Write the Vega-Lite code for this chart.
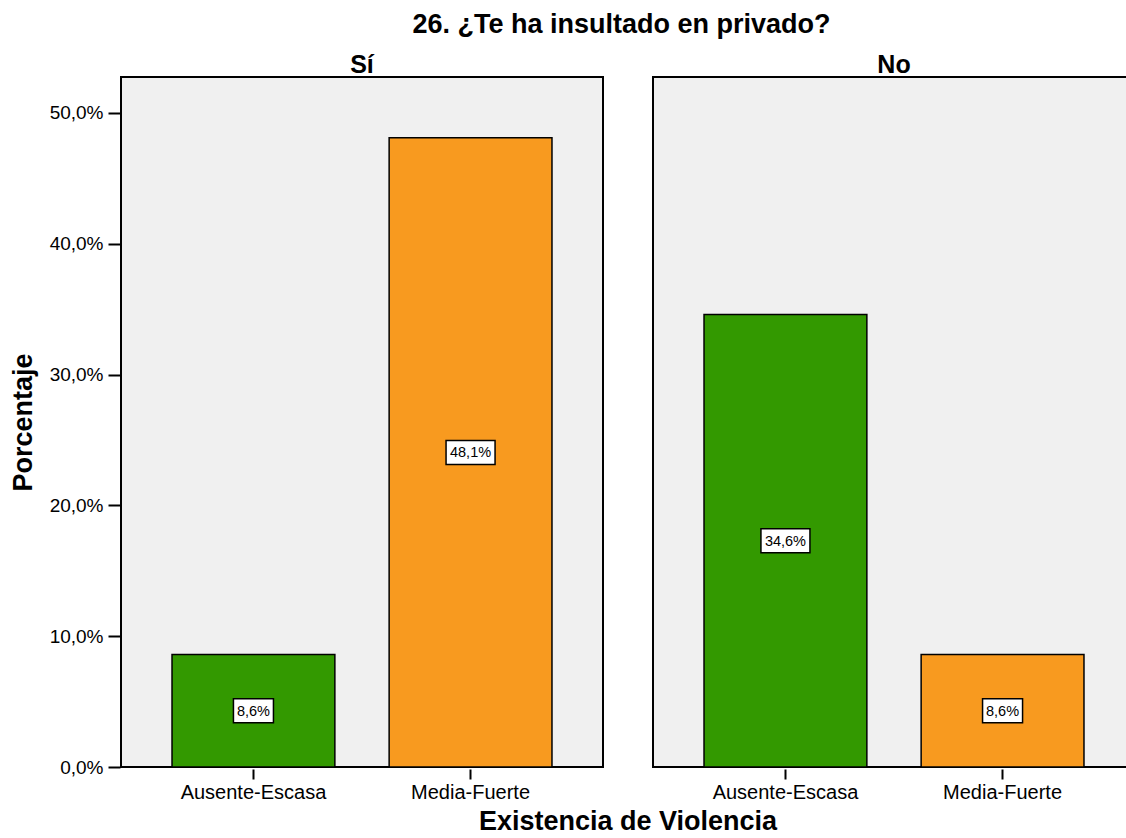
{
  "$schema": "https://vega.github.io/schema/vega-lite/v6.json",
  "padding": {"left": 9, "top": 11, "right": 0, "bottom": 0},
  "title": {"text": "26. ¿Te ha insultado en privado?", "fontSize": 27, "font": "Liberation Sans", "fontWeight": "bold", "anchor": "middle", "dx": 49, "color": "black", "offset": 14},
  "data": {"values": [
    {"g": "Sí", "cat": "Ausente-Escasa", "v": 8.6},
    {"g": "Sí", "cat": "Media-Fuerte", "v": 48.1},
    {"g": "No", "cat": "Ausente-Escasa", "v": 34.6},
    {"g": "No", "cat": "Media-Fuerte", "v": 8.6}
  ]},
  "transform": [
    {"calculate": "replace(format(datum.v, '.1f'), '.', ',') + '%'", "as": "lbl"},
    {"calculate": "datum.v / 2", "as": "mid"}
  ],
  "facet": {"column": {"field": "g", "sort": ["Sí", "No"], "title": "Existencia de Violencia",
    "header": {"titleOrient": "bottom", "labelOrient": "top", "labelFontSize": 25, "labelFontWeight": "bold", "labelFont": "Liberation Sans", "labelColor": "black", "labelPadding": -2,
      "titleFontSize": 27, "titleFontWeight": "bold", "titleFont": "Liberation Sans", "titleColor": "black", "titlePadding": -3}}},
  "spacing": 48,
  "spec": {
    "width": 482,
    "height": 690,
    "encoding": {
      "x": {"field": "cat", "type": "nominal", "sort": ["Ausente-Escasa", "Media-Fuerte"],
        "scale": {"paddingInner": 0.25, "paddingOuter": 0.235},
        "axis": {"title": null, "labelAngle": 0, "labelFontSize": 20, "labelFont": "Liberation Sans", "labelColor": "black", "tickSize": 10, "tickWidth": 2, "tickColor": "black", "domain": false, "labelPadding": 3}}
    },
    "layer": [
      {"mark": {"type": "bar", "stroke": "black", "strokeWidth": 1.5},
       "encoding": {
         "y": {"field": "v", "type": "quantitative", "scale": {"domain": [0, 52.75], "nice": false},
           "axis": {"title": "Porcentaje", "titleFontSize": 27, "titleFont": "Liberation Sans", "titleFontWeight": "bold", "titleColor": "black", "titlePadding": 12,
             "values": [0, 10, 20, 30, 40, 50], "labelExpr": "replace(format(datum.value, '.1f'), '.', ',') + '%'",
             "labelFontSize": 19, "labelFont": "Liberation Sans", "labelColor": "black", "tickSize": 12, "tickWidth": 2, "tickColor": "black", "grid": false, "domain": false, "labelPadding": 5}},
         "color": {"field": "cat", "type": "nominal", "scale": {"domain": ["Ausente-Escasa", "Media-Fuerte"], "range": ["#339900", "#f89a1f"]}, "legend": null}
       }},
      {"mark": {"type": "point", "filled": true, "fill": "white", "stroke": "black", "strokeWidth": 1.5, "opacity": 1},
       "encoding": {
         "y": {"field": "mid", "type": "quantitative"},
         "shape": {"condition": {"test": "datum.v < 10", "value": "M-1,-0.6H1V0.6H-1Z"}, "value": "M-1,-0.49H1V0.49H-1Z"},
         "size": {"condition": {"test": "datum.v < 10", "value": 1600}, "value": 2401}
       }},
      {"mark": {"type": "text", "fontSize": 14.5, "font": "Liberation Sans", "color": "black", "baseline": "middle", "align": "center", "dy": 1},
       "encoding": {
         "y": {"field": "mid", "type": "quantitative"},
         "text": {"field": "lbl"}
       }}
    ]
  },
  "config": {"view": {"fill": "#f0f0f0", "stroke": "black", "strokeWidth": 2}, "background": "white"}
}
